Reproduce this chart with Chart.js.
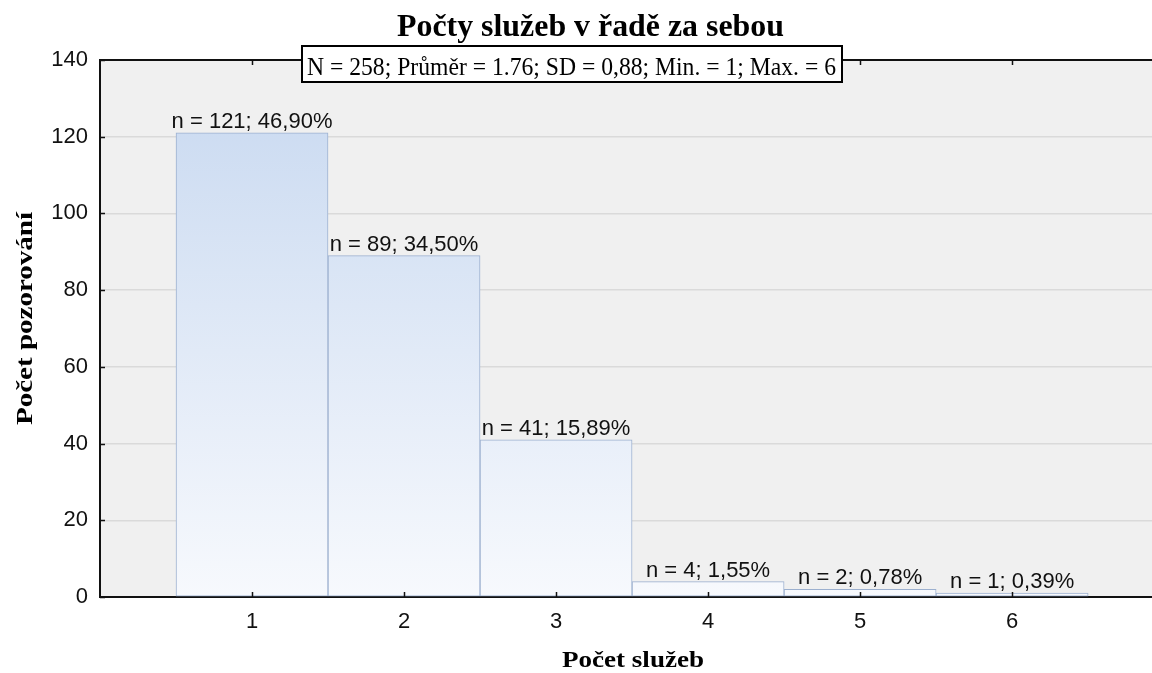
<!DOCTYPE html>
<html>
<head>
<meta charset="utf-8">
<script src="https://cdn.jsdelivr.net/npm/chart.js@4.4.1/dist/chart.umd.min.js"></script>
<style>
  html, body { margin: 0; padding: 0; background: #fff; }
  #wrap { width: 1152px; height: 673px; position: relative; }
</style>
</head>
<body>
<div id="wrap"><canvas id="myChart"></canvas></div>
<script>
const categories = [1, 2, 3, 4, 5, 6];
const counts = [121, 89, 41, 4, 2, 1];
const percents = ["46,90%", "34,50%", "15,89%", "1,55%", "0,78%", "0,39%"];
const yTicks = [0, 20, 40, 60, 80, 100, 120, 140];

const titleText = "Počty služeb v řadě za sebou";
const statsText = "N = 258; Průměr = 1.76; SD = 0,88; Min. = 1; Max. = 6";
const xTitle = "Počet služeb";
const yTitle = "Počet pozorování";

const SANS = "'Liberation Sans', Arial, sans-serif";
const SERIF = "'Liberation Serif', 'Times New Roman', serif";

// draw text squeezed/stretched to a given width
function fitText(ctx, text, x, y, w) {
  const m = ctx.measureText(text).width;
  ctx.save();
  ctx.translate(x, y);
  ctx.scale(w / m, 1);
  ctx.fillText(text, 0, 0);
  ctx.restore();
}

const frame = {
  id: "frame",
  beforeDraw(chart) {
    const { ctx, chartArea: a } = chart;
    ctx.save();
    ctx.fillStyle = "#f0f0f0";
    ctx.fillRect(a.left, a.top, a.right - a.left, a.bottom - a.top);
    ctx.restore();
  },
  afterDatasetsDraw(chart) {
    const { ctx, chartArea: a } = chart;
    const xs = chart.scales.x, ys = chart.scales.y;
    const meta = chart.getDatasetMeta(0);
    ctx.save();
    // bar labels
    ctx.fillStyle = "#111";
    ctx.font = "22px " + SANS;
    ctx.textAlign = "center";
    ctx.textBaseline = "alphabetic";
    meta.data.forEach((bar, i) => {
      ctx.fillText("n = " + counts[i] + "; " + percents[i], bar.x, bar.y - 5);
    });
    // top border
    ctx.strokeStyle = "#111";
    ctx.lineWidth = 2;
    ctx.beginPath();
    ctx.moveTo(a.left, a.top);
    ctx.lineTo(a.right, a.top);
    ctx.stroke();
    // inside ticks
    ctx.lineWidth = 1.5;
    ctx.beginPath();
    categories.forEach(c => {
      const px = Math.round(xs.getPixelForValue(c)) + 0.5;
      ctx.moveTo(px, a.bottom); ctx.lineTo(px, a.bottom - 5);
      ctx.moveTo(px, a.top); ctx.lineTo(px, a.top + 5);
    });
    yTicks.forEach(v => {
      const py = Math.round(ys.getPixelForValue(v)) + 0.5;
      ctx.moveTo(a.left, py); ctx.lineTo(a.left + 5, py);
    });
    ctx.stroke();
    ctx.restore();
  },
  afterDraw(chart) {
    const { ctx } = chart;
    ctx.save();
    ctx.fillStyle = "#000";
    ctx.textAlign = "left";
    ctx.textBaseline = "alphabetic";
    // title
    ctx.font = "bold 32px " + SERIF;
    fitText(ctx, titleText, 397, 36, 387);
    // stats box
    ctx.fillStyle = "#fff";
    ctx.fillRect(302, 46, 540, 36);
    ctx.strokeStyle = "#000";
    ctx.lineWidth = 2;
    ctx.strokeRect(302, 46, 540, 36);
    ctx.fillStyle = "#000";
    ctx.font = "26px " + SERIF;
    fitText(ctx, statsText, 307, 75, 529);
    // x title
    ctx.font = "bold 23px " + SERIF;
    fitText(ctx, xTitle, 562, 667, 142);
    // y title
    ctx.translate(32, 425);
    ctx.rotate(-Math.PI / 2);
    ctx.font = "bold 24px " + SERIF;
    fitText(ctx, yTitle, 0, 0, 213);
    ctx.restore();
  }
};

function barFill(context) {
  const chart = context.chart;
  const a = chart.chartArea;
  if (!a) return "#dce6f5";
  const g = chart.ctx.createLinearGradient(0, a.top, 0, a.bottom);
  g.addColorStop(0, "#c7d8f0");
  g.addColorStop(1, "#f7f9fd");
  return g;
}

const ctx = document.getElementById("myChart").getContext("2d");
const myChart = new Chart(ctx, {
  type: "bar",
  data: {
    datasets: [{
      data: categories.map((c, i) => ({ x: c, y: counts[i] })),
      backgroundColor: barFill,
      borderColor: "#9cb0cf",
      borderWidth: 1,
      borderSkipped: false,
      barPercentage: 1,
      categoryPercentage: 1
    }]
  },
  options: {
    responsive: true,
    maintainAspectRatio: false,
    animation: false,
    layout: { padding: { top: 60, left: 0, right: 0, bottom: 0 } },
    plugins: {
      legend: { display: false },
      title: { display: false },
      tooltip: { enabled: false }
    },
    scales: {
      x: {
        type: "linear",
        offset: false,
        min: 0,
        max: 6.92,
        afterFit(scale) { scale.height = 76; },
        afterBuildTicks(scale) {
          scale.ticks = categories.map(c => ({ value: c }));
        },
        ticks: {
          color: "#111",
          font: { family: SANS, size: 22 },
          padding: 12,
          maxRotation: 0,
          autoSkip: false
        },
        grid: { display: false, drawTicks: false, offset: false },
        border: { display: true, color: "#111", width: 2 }
      },
      y: {
        min: 0,
        max: 140,
        afterFit(scale) { scale.width = 100; },
        afterBuildTicks(scale) {
          scale.ticks = yTicks.map(v => ({ value: v }));
        },
        ticks: {
          color: "#111",
          font: { family: SANS, size: 22 },
          padding: 12
        },
        grid: {
          color: ctx2 => (ctx2.tick && (ctx2.tick.value === 0 || ctx2.tick.value === 140)) ? "rgba(0,0,0,0)" : "#dadada",
          lineWidth: 1.5,
          drawTicks: false
        },
        border: { display: true, color: "#111", width: 2 }
      }
    }
  },
  plugins: [frame]
});
</script>
</body>
</html>
